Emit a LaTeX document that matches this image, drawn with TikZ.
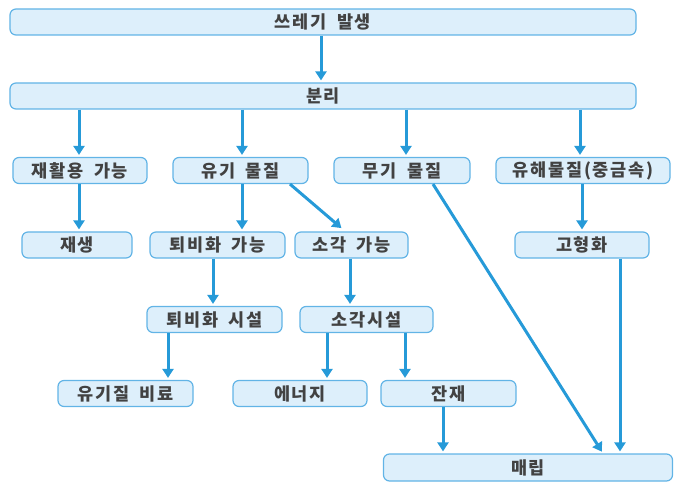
\documentclass[tikz,border=0pt]{standalone}
\usepackage{fontspec}
\newfontfamily\kr{Noto Sans CJK KR}[LetterSpace=10, WordSpace=1.8]
\usetikzlibrary{calc, positioning}
\usetikzlibrary{arrows.meta}

\definecolor{boxfill}{RGB}{221,239,251}
\definecolor{boxline}{RGB}{98,180,230}
\definecolor{flowblue}{RGB}{38,154,216}
\definecolor{txtgray}{RGB}{66,66,66}

\tikzset{
  stepbox/.style={draw=boxline, fill=boxfill, line width=1.2bp, rounded corners=6bp,
    minimum height=26bp, inner sep=0pt, font=\kr\bfseries\fontsize{17.5bp}{19bp}\selectfont,
    text=txtgray},
  flow/.style={draw=flowblue, line width=3bp, shorten >=2bp,
    -{Triangle[width=11bp,length=9bp]}}
}

\begin{document}
\begin{tikzpicture}[x=1bp,y=-1bp]
\useasboundingbox (0,0) rectangle (674,482);

% Top rows
\node[stepbox, minimum width=626bp] (gen) at (323,22) {쓰레기 발생};
\node[stepbox, minimum width=626bp] (sep) at (323,96) {분리};

% Kinds of waste
\node[stepbox, minimum width=134bp] (recyc) at (80,170.5) {재활용 가능};
\node[stepbox, minimum width=135bp] (org) at (240.5,170.5) {유기 물질};
\node[stepbox, minimum width=136bp] (inorg) at (402,170.5) {무기 물질};
\node[stepbox, minimum width=174bp] (haz) at (583,170.5) {유해물질(중금속)};

% Treatment
\node[stepbox, minimum width=110bp] (regen) at (77,245) {재생};
\node[stepbox, minimum width=135bp] (compable) at (217.5,245) {퇴비화 가능};
\node[stepbox, minimum width=113bp] (incable) at (351.5,245) {소각 가능};
\node[stepbox, minimum width=134bp] (solid) at (582,245) {고형화};

\node[stepbox, minimum width=135bp] (compfac) at (214.5,319.5) {퇴비화 시설};
\node[stepbox, minimum width=133bp] (incfac) at (366.5,319.5) {소각시설};

% Results
\node[stepbox, minimum width=135bp] (fert) at (125.5,393.5) {유기질 비료};
\node[stepbox, minimum width=134bp] (energy) at (300,393.5) {에너지};
\node[stepbox, minimum width=135bp] (resid) at (448.5,393.5) {잔재};
\node[stepbox, minimum width=289bp, minimum height=27bp] (landfill) at (528,467.5) {매립};

% Flow arrows
\draw[flow] ([xshift=-2bp]gen.south) -- ([xshift=-2bp]sep.north);
\draw[flow] ([xshift=-1bp]recyc.north |- sep.south) -- ([xshift=-1bp]recyc.north);
\draw[flow] ([xshift=1.5bp]org.north |- sep.south) -- ([xshift=1.5bp]org.north);
\draw[flow] ([xshift=4bp]inorg.north |- sep.south) -- ([xshift=4bp]inorg.north);
\draw[flow] ([xshift=-3bp]haz.north |- sep.south) -- ([xshift=-3bp]haz.north);

\draw[flow] ([xshift=-1bp]recyc.south) -- ([xshift=-1bp]recyc.south |- regen.north);
\draw[flow] ([xshift=1.5bp]org.south) -- ([xshift=1.5bp]org.south |- compable.north);
\draw[flow] ([xshift=49.5bp]org.south) -- ([xshift=-8.5bp,yshift=2bp]incable.north);
\draw[flow] ([xshift=-1bp]haz.south) -- ([xshift=-1bp]haz.south |- solid.north);

\draw[flow] ([xshift=-1.5bp]compfac.north |- compable.south) -- ([xshift=-1.5bp]compfac.north);
\draw[flow] ([xshift=-1.5bp]incable.south) -- ([xshift=-1.5bp]incable.south |- incfac.north);

\draw[flow] ([xshift=-46.5bp]compfac.south) -- ([xshift=-46.5bp]compfac.south |- fert.north);
\draw[flow] ([xshift=-39.5bp]incfac.south) -- ([xshift=-39.5bp]incfac.south |- energy.north);
\draw[flow] ([xshift=38.5bp]incfac.south) -- ([xshift=38.5bp]incfac.south |- resid.north);

\draw[flow] ([xshift=-5.5bp]resid.south) -- ([xshift=-5.5bp]resid.south |- landfill.north);
\draw[flow] ([xshift=31bp]inorg.south) -- ([xshift=75bp]landfill.north);
\draw[flow] ([xshift=38bp]solid.south) -- ([xshift=38bp]solid.south |- landfill.north);
\end{tikzpicture}
\end{document}
